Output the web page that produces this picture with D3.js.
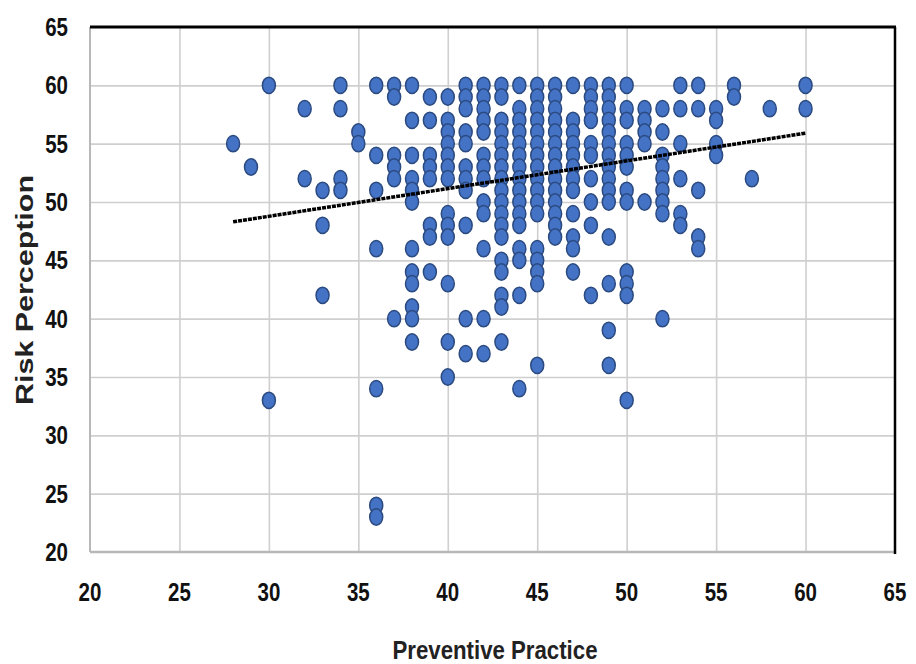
<!DOCTYPE html>
<html lang="en">
<head>
<meta charset="utf-8">
<script src="https://cdnjs.cloudflare.com/ajax/libs/d3/7.8.5/d3.min.js"></script>
<style>
	body { margin: 0; background: #fff; }
	.tick-label { font-family: "Liberation Sans", Arial, sans-serif; font-weight: bold; font-size: 25px; fill: #111; }
	.axis-title { font-family: "Liberation Sans", Arial, sans-serif; font-weight: bold; fill: #222; }
</style>
</head>
<body>
<svg id="chart" width="916" height="664"></svg>
<script>
	// preventive practice score (x) and the risk perception scores seen at that x
	const practice = [28, 29, 30, 32, 33, 34, 35, 36, 37, 38, 39, 40, 41, 42, 43, 44,
		45, 46, 47, 48, 49, 50, 51, 52, 53, 54, 55, 56, 57, 58, 60];
	const perception = [
		[55],
		[53],
		[60, 33],
		[58, 52],
		[51, 48, 42],
		[60, 58, 52, 51],
		[56, 55],
		[60, 54, 51, 46, 34, 24, 23],
		[60, 59, 54, 53, 52, 40],
		[60, 57, 54, 52, 51, 50, 46, 44, 43, 41, 40, 38],
		[59, 57, 54, 53, 52, 48, 47, 44],
		[59, 57, 56, 55, 54, 53, 52, 49, 48, 47, 43, 38, 35],
		[60, 59, 58, 56, 55, 53, 52, 51, 48, 40, 37],
		[60, 59, 58, 57, 56, 54, 53, 52, 50, 49, 46, 40, 37],
		[60, 59, 57, 56, 55, 54, 53, 52, 51, 50, 49, 48, 47, 45, 44, 42, 41, 38],
		[60, 58, 57, 56, 55, 54, 53, 52, 51, 50, 49, 48, 46, 45, 42, 34],
		[60, 59, 58, 57, 56, 55, 54, 53, 52, 51, 50, 49, 46, 45, 44, 43, 36],
		[60, 59, 58, 57, 56, 55, 54, 53, 52, 51, 50, 49, 48, 47],
		[60, 57, 56, 55, 54, 53, 52, 51, 49, 47, 46, 44],
		[60, 59, 58, 57, 55, 54, 52, 50, 48, 42],
		[60, 59, 58, 57, 56, 55, 54, 53, 52, 51, 50, 47, 43, 39, 36],
		[60, 58, 57, 55, 54, 53, 51, 50, 44, 43, 42, 33],
		[58, 57, 56, 55, 50],
		[58, 56, 54, 53, 52, 51, 50, 49, 40],
		[60, 58, 55, 52, 49, 48],
		[60, 58, 51, 47, 46],
		[58, 57, 55, 54],
		[60, 59],
		[52],
		[58],
		[60, 58]
	];
	// linear trend line as drawn (end points)
	const trendX = [28, 60];
	const trendY = [48.3, 55.9];
	const tickValues = [20, 25, 30, 35, 40, 45, 50, 55, 60, 65];

	const points = [];
	practice.forEach((px, i) => perception[i].forEach(py => points.push({x: px, y: py})));

	const plotLeft = 90, plotRight = 895, plotTop = 27, plotBottom = 552;

	const x = d3.scaleLinear().domain([20, 65]).range([plotLeft, plotRight]);
	const y = d3.scaleLinear().domain([20, 65]).range([plotBottom, plotTop]);

	const svg = d3.select('#chart');

	svg.append('rect').attr('width', 916).attr('height', 664).attr('fill', '#fff');

	// grid
	svg.append('g')
		.attr('transform', `translate(0,${plotBottom})`)
		.call(d3.axisBottom(x).tickValues(tickValues.slice(1, -1)).tickSize(-(plotBottom - plotTop)).tickFormat(''))
		.call(g => g.select('.domain').remove())
		.call(g => g.selectAll('line').attr('stroke', '#cfcfcf').attr('stroke-width', 1.6));

	svg.append('g')
		.attr('transform', `translate(${plotLeft},0)`)
		.call(d3.axisLeft(y).tickValues(tickValues.slice(1, -1)).tickSize(-(plotRight - plotLeft)).tickFormat(''))
		.call(g => g.select('.domain').remove())
		.call(g => g.selectAll('line').attr('stroke', '#cfcfcf').attr('stroke-width', 1.6));

	// frame: grey left/bottom, black top/right
	svg.append('line').attr('x1', plotLeft).attr('x2', plotLeft).attr('y1', plotTop).attr('y2', plotBottom)
		.attr('stroke', '#b8b8b8').attr('stroke-width', 2);
	svg.append('line').attr('x1', plotLeft).attr('x2', plotRight).attr('y1', plotBottom).attr('y2', plotBottom)
		.attr('stroke', '#b8b8b8').attr('stroke-width', 2.5);
	svg.append('line').attr('x1', plotLeft).attr('x2', plotRight + 1).attr('y1', plotTop).attr('y2', plotTop)
		.attr('stroke', '#000').attr('stroke-width', 3);
	svg.append('line').attr('x1', plotRight).attr('x2', plotRight).attr('y1', plotTop).attr('y2', plotBottom + 2)
		.attr('stroke', '#000').attr('stroke-width', 2.5);

	// points
	svg.append('g')
		.selectAll('ellipse')
		.data(points)
		.join('ellipse')
		.attr('cx', d => x(d.x))
		.attr('cy', d => y(d.y))
		.attr('rx', 6.5)
		.attr('ry', 8.2)
		.attr('fill', '#4472c4')
		.attr('stroke', '#2b4a80')
		.attr('stroke-width', 1.5);

	// trend line
	svg.append('path')
		.datum(trendX.map((v, i) => [v, trendY[i]]))
		.attr('d', d3.line().x(d => x(d[0])).y(d => y(d[1])))
		.attr('fill', 'none')
		.attr('stroke', '#000')
		.attr('stroke-width', 3.5)
		.attr('stroke-dasharray', '4,1');

	// tick labels (narrowed to look like the condensed original)
	svg.append('g')
		.selectAll('text')
		.data(tickValues)
		.join('text')
		.attr('class', 'tick-label')
		.attr('transform', d => `translate(68,${y(d)}) scale(0.82,1)`)
		.attr('dy', '0.36em')
		.attr('text-anchor', 'end')
		.text(d => d);

	svg.append('g')
		.selectAll('text')
		.data(tickValues)
		.join('text')
		.attr('class', 'tick-label')
		.attr('transform', d => `translate(${x(d)},592) scale(0.82,1)`)
		.attr('dy', '0.36em')
		.attr('text-anchor', 'middle')
		.text(d => d);

	// axis titles
	svg.append('text')
		.attr('class', 'axis-title')
		.attr('x', 495)
		.attr('y', 650)
		.attr('dy', '0.36em')
		.attr('text-anchor', 'middle')
		.attr('textLength', 205)
		.attr('lengthAdjust', 'spacingAndGlyphs')
		.style('font-size', '25px')
		.text('Preventive Practice');

	svg.append('text')
		.attr('class', 'axis-title')
		.attr('transform', 'translate(25,290) rotate(-90)')
		.attr('dy', '0.36em')
		.attr('text-anchor', 'middle')
		.attr('textLength', 230)
		.attr('lengthAdjust', 'spacingAndGlyphs')
		.style('font-size', '23px')
		.text('Risk Perception');
</script>
</body>
</html>
